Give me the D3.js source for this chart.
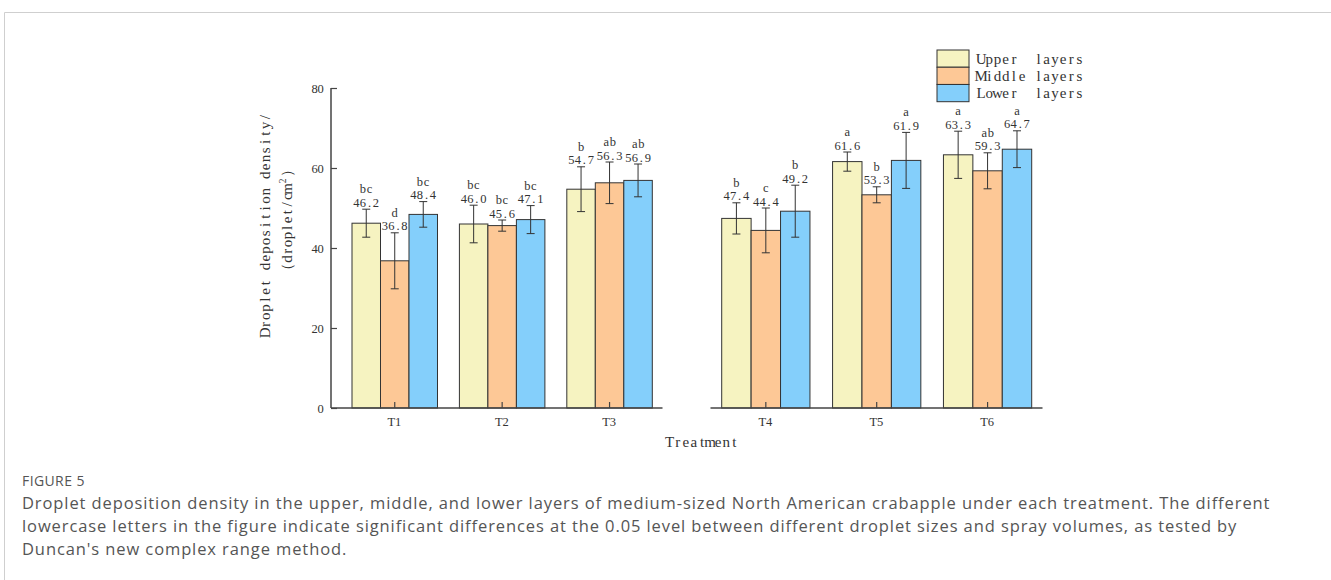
<!DOCTYPE html>
<html>
<head>
<meta charset="utf-8">
<script src="https://cdn.jsdelivr.net/npm/d3@7/dist/d3.min.js"></script>
<style>
  html, body { margin: 0; padding: 0; background: #fff; }
  svg { display: block; }
</style>
</head>
<body>
<svg id="chart" width="1331" height="580"></svg>
<script>
// ---------- data ----------
const treatments = ["T1", "T2", "T3", "T4", "T5", "T6"];
const panelA = ["T1", "T2", "T3"];
const panelB = ["T4", "T5", "T6"];
const layers = ["Upper  layers", "Middle layers", "Lower  layers"];
const layerKeys = ["upper", "middle", "lower"];

const upperValues  = [46.2, 46.0, 54.7, 47.4, 61.6, 63.3];
const middleValues = [36.8, 45.6, 56.3, 44.4, 53.3, 59.3];
const lowerValues  = [48.4, 47.1, 56.9, 49.2, 61.9, 64.7];

const upperErr  = [3.5, 4.7, 5.6, 3.9, 2.4, 5.9];
const middleErr = [7.0, 1.4, 5.2, 5.6, 2.0, 4.5];
const lowerErr  = [3.2, 3.5, 4.1, 6.5, 7.0, 4.6];

const upperSig  = ["bc", "bc", "b",  "b", "a", "a"];
const middleSig = ["d",  "bc", "ab", "c", "b", "ab"];
const lowerSig  = ["bc", "bc", "ab", "b", "a", "a"];

const yTicks = [0, 20, 40, 60, 80];
const yLabelLine1 = "Droplet deposition density/";
const yLabelLine2 = ["（droplet/cm", "2", "）"];
const xTitle = "Treatment";
const figLabel = "FIGURE 5";
const captionLines = [
  "Droplet deposition density in the upper, middle, and lower layers of medium-sized North American crabapple under each treatment. The different",
  "lowercase letters in the figure indicate significant differences at the 0.05 level between different droplet sizes and spray volumes, as tested by",
  "Duncan's new complex range method."
];

// ---------- styles ----------
const colors = { upper: "#F6F3C1", middle: "#FDC896", lower: "#84CFFB" };
const serif = "'Liberation Serif', 'DejaVu Serif', serif";
const axisColor = "#444";
const textColor = "#333";

const valueTable = { upper: upperValues, middle: middleValues, lower: lowerValues };
const errTable = { upper: upperErr, middle: middleErr, lower: lowerErr };
const sigTable = { upper: upperSig, middle: middleSig, lower: lowerSig };

const rows = [];
treatments.forEach((t, i) => {
  layerKeys.forEach(k => {
    rows.push({ t, key: k, v: valueTable[k][i], e: errTable[k][i], sig: sigTable[k][i] });
  });
});

// fixed-pitch text (emulates the half-width CJK font of the original)
function glyphs(str, sup) {
  return Array.from(str).map(ch => ({ ch, w: /[\u3000-\uffff]/.test(ch) ? 2 : 1, sup: !!sup }));
}
function monoText(parent, gl, o) {
  const n = d3.sum(gl, d => d.w);
  const x0 = o.anchor === "middle" ? o.x - n * o.cw / 2 : o.anchor === "end" ? o.x - n * o.cw : o.x;
  const t = parent.append("text")
    .attr("y", o.y)
    .attr("text-anchor", "middle")
    .attr("font-family", serif).attr("font-size", o.size)
    .attr("fill", o.fill || textColor);
  let off = 0, prevSup = false;
  gl.forEach(g => {
    const ts = t.append("tspan").attr("x", x0 + (off + g.w / 2) * o.cw).text(g.ch);
    if (g.sup && !prevSup) ts.attr("dy", -6);
    if (!g.sup && prevSup) ts.attr("dy", 6);
    if (g.sup) ts.attr("font-size", o.size * 0.62);
    prevSup = g.sup;
    off += g.w;
  });
  return t;
}

const svg = d3.select("#chart");
svg.append("rect").attr("width", 1331).attr("height", 580).attr("fill", "#fff");

// frame
svg.append("path").attr("d", "M4.5,580 V12.5 H1331").attr("fill", "none")
  .attr("stroke", "#cfcfcf").attr("stroke-width", 1);

// ---------- scales ----------
const y = d3.scaleLinear().domain([0, 80]).range([408, 88]);

const axisA = [331, 662.5];
const axisB = [710.5, 1042.5];

const xA = d3.scaleBand().domain(panelA).range([352, 652.3]).paddingInner(0.204).paddingOuter(0);
const xB = d3.scaleBand().domain(panelB).range([721.7, 1031.7]).paddingInner(0.204).paddingOuter(0);
const xGroup = t => (panelA.includes(t) ? xA : xB);
const xSub = {
  A: d3.scaleBand().domain(layerKeys).range([0, xA.bandwidth()]),
  B: d3.scaleBand().domain(layerKeys).range([0, xB.bandwidth()])
};
const sub = t => (panelA.includes(t) ? xSub.A : xSub.B);
const barX = d => xGroup(d.t)(d.t) + sub(d.t)(d.key);
const barW = d => sub(d.t).bandwidth();
const barC = d => barX(d) + barW(d) / 2;

// ---------- bars ----------
const g = svg.append("g");
g.selectAll("rect.bar").data(rows).join("rect")
  .attr("class", "bar")
  .attr("x", d => barX(d))
  .attr("y", d => y(d.v))
  .attr("width", d => barW(d))
  .attr("height", d => y(0) - y(d.v))
  .attr("fill", d => colors[d.key])
  .attr("stroke", "#333")
  .attr("stroke-width", 1);

// ---------- error bars ----------
const eb = g.selectAll("g.err").data(rows).join("g").attr("class", "err")
  .attr("stroke", "#333").attr("stroke-width", 1);
eb.append("line")
  .attr("x1", d => barC(d)).attr("x2", d => barC(d))
  .attr("y1", d => y(d.v + d.e)).attr("y2", d => y(d.v - d.e));
eb.append("line")
  .attr("x1", d => barC(d) - 4).attr("x2", d => barC(d) + 4)
  .attr("y1", d => y(d.v + d.e)).attr("y2", d => y(d.v + d.e));
eb.append("line")
  .attr("x1", d => barC(d) - 4).attr("x2", d => barC(d) + 4)
  .attr("y1", d => y(d.v - d.e)).attr("y2", d => y(d.v - d.e));

// ---------- value & significance labels ----------
const fmt = d3.format(".1f");
const labG = svg.append("g");
rows.forEach(d => {
  monoText(labG, glyphs(fmt(d.v)), { x: barC(d), y: y(d.v + d.e) - 2.5, cw: 6.5, size: 12.5, anchor: "middle" });
  monoText(labG, glyphs(d.sig), { x: barC(d), y: y(d.v + d.e) - 16, cw: 6.5, size: 12.5, anchor: "middle" });
});

// ---------- axes ----------
const axG = svg.append("g").attr("stroke", axisColor).attr("stroke-width", 1.5);
axG.append("line").attr("x1", axisA[0]).attr("x2", axisA[1]).attr("y1", y(0)).attr("y2", y(0));
axG.append("line").attr("x1", axisB[0]).attr("x2", axisB[1]).attr("y1", y(0)).attr("y2", y(0));

// y axis with inward ticks
const yAxis = d3.axisRight(y).tickValues(yTicks).tickSize(6).tickFormat("");
const yg = svg.append("g").attr("transform", `translate(${axisA[0]},0)`).call(yAxis);
yg.select(".domain").attr("d", `M0,${y(0)}V${y(80)}`).attr("stroke", axisColor).attr("stroke-width", 1.5);
yg.selectAll(".tick line").attr("stroke", axisColor).attr("stroke-width", 1.2);
const ytl = svg.append("g");
yTicks.forEach(v => {
  monoText(ytl, glyphs(String(v)), { x: axisA[0] - 7.5, y: y(v) + 4.5, cw: 6, size: 12.5, anchor: "end" });
});

// x axes: ticks pointing up
const xtl = svg.append("g");
[[xA, panelA], [xB, panelB]].forEach(([sc, dom]) => {
  const ax = d3.axisTop(sc).tickSize(6).tickFormat("");
  const xg = svg.append("g").attr("transform", `translate(0,${y(0)})`).call(ax);
  xg.select(".domain").remove();
  xg.selectAll(".tick line").attr("stroke", axisColor).attr("stroke-width", 1.2);
  dom.forEach(t => {
    monoText(xtl, glyphs(t), { x: sc(t) + sc.bandwidth() / 2, y: 425.5, cw: 6.8, size: 12.5, anchor: "middle" });
  });
});

// axis titles
monoText(svg, glyphs(xTitle), { x: 702, y: 447, cw: 8.1, size: 15, anchor: "middle" });

const yl1 = svg.append("g").attr("transform", "translate(270,225) rotate(-90)");
monoText(yl1, glyphs(yLabelLine1), { x: 0, y: 0, cw: 8.3, size: 15, anchor: "middle" });
const yl2 = svg.append("g").attr("transform", "translate(292,220) rotate(-90)");
monoText(yl2, [...glyphs(yLabelLine2[0]), ...glyphs(yLabelLine2[1], true), ...glyphs(yLabelLine2[2])],
  { x: 0, y: 0, cw: 7.8, size: 15, anchor: "middle" });

// ---------- legend ----------
const legY = d3.scaleBand().domain(layerKeys).range([50, 101.7]);
const leg = svg.append("g");
leg.selectAll("rect").data(layerKeys).join("rect")
  .attr("x", 937).attr("y", d => legY(d))
  .attr("width", 32).attr("height", legY.bandwidth())
  .attr("fill", d => colors[d]).attr("stroke", "#333").attr("stroke-width", 1);
layerKeys.forEach((k, i) => {
  monoText(leg, glyphs(layers[i]), { x: 977, y: legY(k) + legY.bandwidth() / 2 + 5, cw: 8.2, size: 15, anchor: "start" });
});

// ---------- caption ----------
svg.append("text").attr("x", 22).attr("y", 486)
  .attr("font-family", "'Open Sans', sans-serif").attr("font-size", 14)
  .attr("letter-spacing", 0.4)
  .attr("fill", "#555").text(figLabel);
svg.append("g").selectAll("text").data(captionLines).join("text")
  .attr("x", 22).attr("y", (d, i) => 509 + i * 23)
  .attr("font-family", "'Open Sans', sans-serif").attr("font-size", 16.5)
  .attr("letter-spacing", 0.9)
  .attr("fill", "#555").text(d => d);
</script>
</body>
</html>
